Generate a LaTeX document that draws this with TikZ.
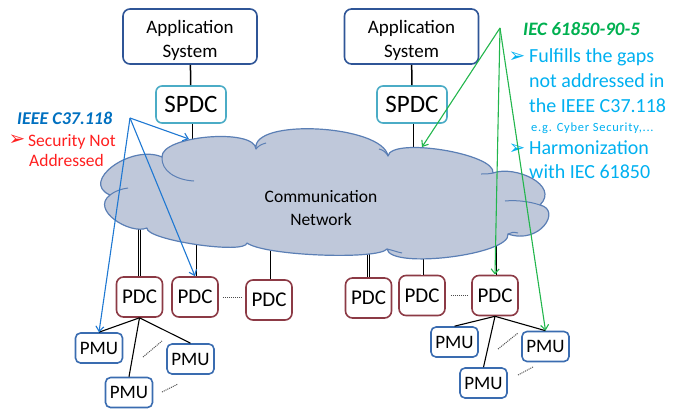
\documentclass[tikz,border=0pt]{standalone}
\usepackage{fontspec}
\setmainfont{Carlito}
\newfontfamily\symfont{DejaVu Sans}
\newfontfamily\spacedfont[LetterSpace=6]{Carlito}
\usetikzlibrary{arrows.meta}

\definecolor{appblue}{HTML}{2F5597}
\definecolor{spdcteal}{HTML}{4BACC6}
\definecolor{pdcred}{HTML}{8C3A45}
\definecolor{pmublue}{HTML}{3A6CB0}
\definecolor{cloudfill}{HTML}{BFC8DA}
\definecolor{cloudline}{HTML}{5B7FB5}
\definecolor{ieeeblue}{HTML}{0070C0}
\definecolor{noteblue}{HTML}{00B0F0}
\definecolor{iecgreen}{HTML}{00B050}
\definecolor{arrowblue}{HTML}{1E78D2}
\definecolor{arrowgreen}{HTML}{22B64C}
\definecolor{alertred}{HTML}{FF1F1F}

\begin{document}
\begin{tikzpicture}[x=1pt, y=-1pt, line join=round,
  box/.style={draw, fill=white, line width=1.6pt, rounded corners=7pt,
    inner sep=0pt, align=center},
  appbox/.style={box, draw=appblue, minimum width=134pt, minimum height=55pt},
  apptext/.style={inner sep=0pt, align=center, font=\fontsize{19}{24}\selectfont},
  spdcbox/.style={box, draw=spdcteal, minimum width=70pt, minimum height=37pt,
    rounded corners=6pt, font=\fontsize{25}{28}\selectfont},
  pdcbox/.style={box, draw=pdcred, minimum width=46pt, minimum height=40pt,
    font=\fontsize{21}{24}\selectfont},
  pmubox/.style={box, draw=pmublue, minimum width=47pt, minimum height=30pt,
    rounded corners=5pt, font=\fontsize{19}{22}\selectfont},
  uplink/.style={line width=1.5pt},
  dlink/.style={double, line width=0.8pt, double distance=1.4pt},
  branch/.style={line width=1.1pt},
  dots/.style={densely dotted, line width=1pt, black!70},
  cloudpath/.style={draw=cloudline, fill=cloudfill, line width=1.2pt},
  cloudfold/.style={cloudline, line width=1pt},
  bluearrow/.style={arrowblue, line width=1.1pt, -{Straight Barb[length=5pt,width=8pt]}},
  greenarrow/.style={arrowgreen, line width=1.1pt, -{Straight Barb[length=5pt,width=8pt]}},
  note/.style={anchor=base west, inner sep=0pt},
  bullet/.style={inner sep=0pt, font=\symfont\fontsize{20}{20}\selectfont}
]
\useasboundingbox (0,0) rectangle (683,410);

% application systems and super PDCs
\node[appbox] (app1) at (190,36.5) {};
\node[apptext] (app1text) at ([yshift=-4pt]app1.center) {Application\\System};
\node[appbox] (app2) at (411.5,36.5) {};
\node[apptext] (app2text) at ([yshift=-4pt]app2.center) {Application\\System};
\node[spdcbox] (spdc1) at (191,104.5) {SPDC};
\node[spdcbox] (spdc2) at (412,104.5) {SPDC};

% PDCs
\node[pdcbox] (pdc1) at (139.5,297) {PDC};
\node[pdcbox] (pdc2) at (195,297) {PDC};
\node[pdcbox] (pdc3) at (269,300) {PDC};
\node[pdcbox] (pdc4) at (368.5,298) {PDC};
\node[pdcbox] (pdc5) at (422,295.5) {PDC};
\node[pdcbox] (pdc6) at (495,295.5) {PDC};

% PMUs
\node[pmubox] (pmu1) at (99,348) {PMU};
\node[pmubox] (pmu2) at (190.5,359) {PMU};
\node[pmubox] (pmu3) at (129,392.5) {PMU};
\node[pmubox] (pmu4) at (454.5,342) {PMU};
\node[pmubox] (pmu5) at (545.5,346.5) {PMU};
\node[pmubox] (pmu6) at (483.5,383) {PMU};

% attachment points inside the network cloud
\coordinate (net1) at (191,170);
\coordinate (net2) at (412,175);
\coordinate (netp1) at (139.5,215);
\coordinate (netp2) at (195,215);
\coordinate (netp3) at (269,215);
\coordinate (netp4) at (368.5,215);
\coordinate (netp5) at (422,215);
\coordinate (netp6) at (495,215);

% links
\draw[uplink] (app1) -- (spdc1);
\draw[uplink] (app2) -- (spdc2);
\draw[dlink] (spdc1.south) -- (net1);
\draw[dlink] (spdc2.south) -- (net2);
\foreach \i in {1,...,6} \draw[dlink] (pdc\i.north) -- (netp\i);

% communication network cloud
\path[cloudpath]
 (110,195) .. controls (79.3,181.7) and (131.3,143.7) .. (162,157)
 .. controls (160.7,135.7) and (254.7,127.7) .. (256,149)
 .. controls (250.7,117.7) and (382.7,124.7) .. (388,156)
 .. controls (391.3,136.7) and (496.3,153.7) .. (493,173)
 .. controls (515,165) and (560,185) .. (540,205)
 .. controls (562,210) and (540,245) .. (508,234)
 .. controls (511.3,254.7) and (390.3,269.7) .. (387,249)
 .. controls (378,260) and (265,256) .. (247,243)
 .. controls (245.2,254.9) and (145.2,239.9) .. (147,228)
 .. controls (130,235) and (90,210) .. cycle;
\draw[cloudfold]
 (162,157) .. controls (161,171) and (176,180) .. (194,181)
 (110,195) .. controls (115,191) and (121,189) .. (128,188)
 (256,149) .. controls (258,146) and (262,144) .. (266,143)
 (388,156) .. controls (386,152) and (383,150) .. (379,149)
 (493,173) .. controls (489,174) and (485,174) .. (481,174)
 (540,205) .. controls (528,201) and (515,200) .. (505,201)
 (508,234) .. controls (511,232) and (514,232) .. (518,233)
 (387,249) .. controls (392,250) and (397,252) .. (402,253);
\node[inner sep=0pt, align=center, font=\fontsize{17.5}{23}\selectfont]
  (net) at (321,208.5) {Communication\\Network};

% PDC to PMU branches
\draw[branch] (pdc1.south) -- (pmu1.north);
\draw[branch] (pdc1.south) -- (pmu2.north);
\draw[branch] (pdc1.south) -- (pmu3.north);
\draw[branch] (pdc6.south) -- (pmu4.north);
\draw[branch] (pdc6.south) -- (pmu5.north);
\draw[branch] (pdc6.south) -- (pmu6.north);

% ellipsis marks
\draw[dots, shorten <=4pt, shorten >=3pt] (pdc2.east) -- (pdc2.east -| pdc3.west);
\draw[dots, shorten <=5pt, shorten >=3pt] (pdc5.east) -- (pdc6.west);
\draw[dots] (143,357) -- (162,341);
\draw[dots] (162,392) -- (178,384);
\draw[dots] (498,349) -- (518,333);
\draw[dots] (518,375) -- (533,367);

% IEEE C37.118 annotation
\node[note, text=ieeeblue, font=\fontsize{18}{20}\selectfont\bfseries\itshape]
  (ieee) at (17,124) {IEEE C37.118};
\node[bullet, text=alertred] (b1) at (17,140.5) {➢};
\node[note, text=alertred, font=\fontsize{17.5}{20}\selectfont]
  (sec1) at (28,146) {Security Not};
\node[note, text=alertred, font=\fontsize{17.5}{20}\selectfont]
  (sec2) at (29,166.5) {Addressed};
\coordinate (blueapex) at (130,118);
\draw[bluearrow] (blueapex) -- (189,139);
\draw[bluearrow] (blueapex) -- (pmu1.north);
\draw[bluearrow] (blueapex) -- (pdc2.north);

% IEC 61850-90-5 annotation
\node[note, text=iecgreen, font=\fontsize{19}{22}\selectfont\bfseries\itshape]
  (iec) at (523,35.5) {IEC 61850-90-5};
\node[bullet, text=noteblue] (b2) at (517,57) {➢};
\node[note, text=noteblue, font=\fontsize{20}{24}\selectfont] (n1) at (529,62.5) {Fulfills the gaps};
\node[note, text=noteblue, font=\fontsize{20}{24}\selectfont] (n2) at (529,87.3) {not addressed in};
\node[note, text=noteblue, font=\fontsize{20}{24}\selectfont] (n3) at (529,112) {the IEEE C37.118};
\node[note, text=noteblue, font=\spacedfont\fontsize{12.5}{14}\selectfont] (n4) at (531,131.7) {e.g. Cyber Security,...};
\node[bullet, text=noteblue] (b3) at (517,149.5) {➢};
\node[note, text=noteblue, font=\fontsize{20}{24}\selectfont] (n5) at (529,154) {Harmonization};
\node[note, text=noteblue, font=\fontsize{20}{24}\selectfont] (n6) at (529,178.3) {with IEC 61850};
\coordinate (greenapex) at (500,28);
\draw[greenarrow] (greenapex) -- (422,147);
\draw[greenarrow] (greenapex) -- (pdc6.north);
\draw[greenarrow] (greenapex) -- (pmu5.north);
\end{tikzpicture}
\end{document}
